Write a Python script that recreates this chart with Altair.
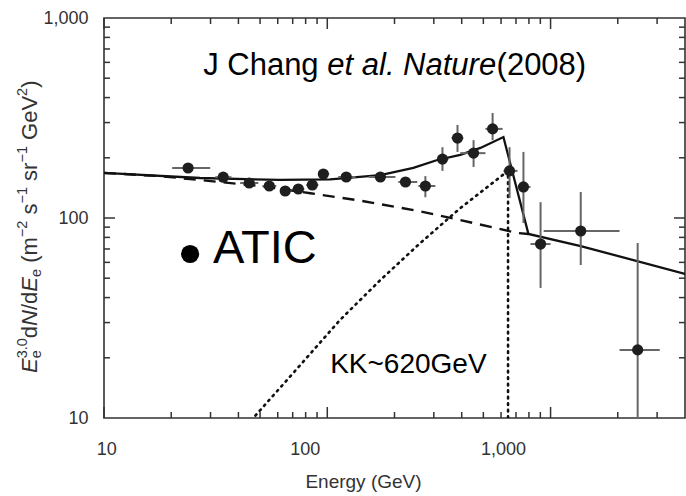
import altair as alt
import pandas as pd

# ---------------- data ----------------
energy = [23.8, 34.2, 44.7, 55.0, 64.8, 74.2, 85.7, 96.0, 121.6, 172.9, 224, 275,
          328, 383, 452, 550, 655, 756, 902, 1365, 2455]
flux = [177.8, 160, 149.6, 144.5, 136.5, 139.6, 146.2, 166.0, 160.3, 160.3, 151.4, 144.5,
        197, 251, 211, 279, 172, 143, 74.1, 86.1, 21.9]
e_lo = [20.2, 31.5, 40.7, 51.2, 61.5, 69.7, 80.5, 91.2, 112, 153, 208, 256,
        311, 360, 394, 511, 615, 711, 813, 931, 2037]
e_hi = [29.9, 37.2, 49.1, 59.1, 69.0, 78.9, 91.2, 102, 134, 202, 253, 305,
        349, 407, 511, 610, 711, 813, 1000, 2037, 3083]
f_lo = [177.8, 160, 149.6, 144.5, 136.5, 139.6, 146.2, 166.0, 160.3, 160.3, 143, 127,
        172, 214, 180, 245, 126, 94.4, 44.7, 58.2, 10]
f_hi = [177.8, 160, 149.6, 144.5, 136.5, 139.6, 146.2, 166.0, 160.3, 160.3, 160, 162,
        226, 292, 245, 335, 226, 214, 120, 135, 75]

# total model (solid)
sol_e = [10, 26.9, 61.5, 103, 173, 243, 311, 394, 485, 615, 796, 1365, 4000]
sol_f = [168, 158.5, 155, 156, 164, 178, 195, 207, 224, 254, 83.2, 72.4, 52.5]
# background (dashed)
dash_e = [10, 17.8, 50.1, 84, 141, 261, 394, 711, 796]
dash_f = [168, 162, 144.5, 133, 122, 108, 97.7, 84.1, 83.2]
# KK signal (dotted)
dot_e = [40, 46.6, 75.7, 114, 173, 261, 394, 645, 645]
dot_f = [8.2, 10, 18.4, 30.9, 49, 75, 112, 172, 5]

x_ticks_major = [10, 100, 1000]
x_ticks_minor = [20, 30, 40, 50, 60, 70, 80, 90, 200, 300, 400, 500, 600, 700, 800, 900, 2000, 3000]
y_ticks_major = [100]
y_ticks_minor = [20, 30, 40, 50, 60, 70, 80, 90, 200, 300, 400, 500, 600, 700, 800, 900]
y_axis_labels = [10, 100, 1000]
# x tick labels, where they are printed in the figure (left of their ticks)
x_label_text = ["10", "100", "1,000"]
x_label_at = [10.3, 79.6, 615]

W, H = 581, 400
FONT = "Liberation Sans"
INK = "#333333"

xs = alt.Scale(type="log", domain=[10, 4000], nice=False)
ys = alt.Scale(type="log", domain=[10, 1000], nice=False)

xaxis = alt.Axis(values=x_ticks_major, labels=False, title="Energy (GeV)", domain=False,
                 ticks=False, tickSize=0, grid=False,
                 titleFont=FONT, titleFontSize=19, titleFontWeight="normal", titleColor=INK,
                 titleX=259, titleY=69, titleBaseline="alphabetic", titleAlign="center")
yaxis = alt.Axis(values=y_axis_labels, format=",", title=None, domain=False, ticks=False,
                 tickSize=0, grid=False, labelFlush=False, labelOverlap=False,
                 labelFont=FONT, labelFontSize=18, labelColor=INK, labelPadding=16)


def X(f):
    return alt.X(f, type="quantitative", scale=xs, axis=xaxis)


def Y(f):
    return alt.Y(f, type="quantitative", scale=ys, axis=yaxis)


pts = pd.DataFrame({"e": energy, "f": flux, "elo": e_lo, "ehi": e_hi, "flo": f_lo, "fhi": f_hi})

hbars = alt.Chart(pts).mark_rule(color="#666666", strokeWidth=2, clip=True).encode(
    x=X("elo"), x2="ehi", y=Y("f"))
vbars = alt.Chart(pts).mark_rule(color="#666666", strokeWidth=2, clip=True).encode(
    x=X("e"), y=Y("flo"), y2="fhi")
dots = alt.Chart(pts).mark_circle(size=125, color="#1e1e1e", opacity=1).encode(
    x=X("e"), y=Y("f"))


def line(es, fs, **kw):
    df = pd.DataFrame({"e": es, "f": fs, "i": list(range(len(es)))})
    return alt.Chart(df).mark_line(clip=True, color="#111111", **kw).encode(
        x=X("e"), y=Y("f"), order="i:Q")


solid = line(sol_e, sol_f, strokeWidth=2.3)
dashed = line(dash_e, dash_f, strokeWidth=2.4, strokeDash=[12, 8])
dotted = line(dot_e, dot_f, strokeWidth=2.6, strokeDash=[1.5, 5], strokeCap="round")


# inward ticks on all four sides
def ticks(vals, side, L):
    df = pd.DataFrame({"v": vals})
    base = alt.Chart(df).mark_rule(color=INK, strokeWidth=1.5)
    if side == "bottom":
        return base.encode(x=X("v"), y=alt.value(H), y2=alt.value(H - L))
    if side == "top":
        return base.encode(x=X("v"), y=alt.value(0), y2=alt.value(L))
    if side == "left":
        return base.encode(y=Y("v"), x=alt.value(0), x2=alt.value(L))
    return base.encode(y=Y("v"), x=alt.value(W), x2=alt.value(W - L))


tick_layers = [
    ticks(x_ticks_major, "bottom", 11), ticks(x_ticks_minor, "bottom", 6),
    ticks(x_ticks_major, "top", 11), ticks(x_ticks_minor, "top", 6),
    ticks(y_ticks_major, "left", 11), ticks(y_ticks_minor, "left", 6),
    ticks(y_ticks_major, "right", 11), ticks(y_ticks_minor, "right", 6),
]

xlabels = alt.Chart(pd.DataFrame({"t": x_label_text, "e": x_label_at})).mark_text(
    font=FONT, fontSize=18, color=INK, align="center", baseline="middle").encode(
    x=X("e"), y=alt.value(H + 32), text="t:N")


# annotations placed in data coordinates
def label(txt, e, f, size, style="normal", align="left", baseline="alphabetic"):
    df = pd.DataFrame({"t": [txt], "e": [e], "f": [f]})
    return alt.Chart(df).mark_text(font=FONT, fontSize=size, fontStyle=style, color="#000000",
                                   align=align, baseline=baseline).encode(
        x=X("e"), y=Y("f"), text="t:N")


ann = [
    label("J Chang", 27.8, 575, 31, baseline="middle"),
    label("et al. Nature", 100, 575, 31, style="italic", baseline="middle"),
    label("(2008)", 573, 575, 31, baseline="middle"),
    label("ATIC", 30.8, 59.6, 47),
    label("KK~620GeV", 103, 16.8, 28),
]
atic_dot = alt.Chart(pd.DataFrame({"e": [24.3], "f": [66.1]})).mark_circle(
    size=330, color="#000000", opacity=1).encode(x=X("e"), y=Y("f"))

# y-axis title with sub/superscripts, rotated
CW = {"E": .667, "e": .556, "3": .556, ".": .278, "0": .556, "d": .556, "N": .722, "/": .278,
      " ": .278, "(": .333, "m": .833, "\u2212": .584, "2": .556, "s": .5, "1": .556,
      "r": .333, "G": .778, "V": .667, ")": .333}
MAIN, SCRIPT = 22, 14.5
groups = [
    [("E", "main", "italic")],
    [("e", "sub", "normal"), ("3.0", "sup", "normal")],
    [("d", "main", "normal")],
    [("N", "main", "italic")],
    [("/d", "main", "normal")],
    [("E", "main", "italic")],
    [("e", "sub", "normal")],
    [(" (m", "main", "normal")],
    [("\u22122", "sup", "normal")],
    [(" s", "main", "normal")],
    [("\u22121", "sup", "normal")],
    [(" sr", "main", "normal")],
    [("\u22121", "sup", "normal")],
    [(" GeV", "main", "normal")],
    [("2", "sup", "normal")],
    [(")", "main", "normal")],
]
BASE_X = {"main": 37, "sup": 27, "sub": 41}
ylabel_layers = []
ypos = 373.0
for g in groups:
    adv = 0
    for txt, role, style in g:
        fs = MAIN if role == "main" else SCRIPT
        w = sum(CW[c] for c in txt) * fs
        adv = max(adv, w)
        shown = txt.lstrip(" ")
        lead = (len(txt) - len(shown)) * CW[" "] * fs
        df = pd.DataFrame({"t": [shown]})
        ylabel_layers.append(
            alt.Chart(df).mark_text(font=FONT, fontSize=fs, fontStyle=style, color=INK,
                                    angle=270, align="left", baseline="alphabetic").encode(
                x=alt.value(BASE_X[role] - 104), y=alt.value(ypos - lead - 18), text="t:N"))
    ypos -= adv

chart = alt.layer(
    dashed, dotted, solid, hbars, vbars, dots, *tick_layers, xlabels, atic_dot, *ann,
    *ylabel_layers
).properties(
    width=W, height=H, autosize="none",
    padding={"left": 104, "top": 18, "right": 1, "bottom": 78},
    background="white",
).configure_view(stroke=INK, strokeWidth=1.6)

chart.save("out.html", embed_options={"renderer": "svg", "actions": False})
